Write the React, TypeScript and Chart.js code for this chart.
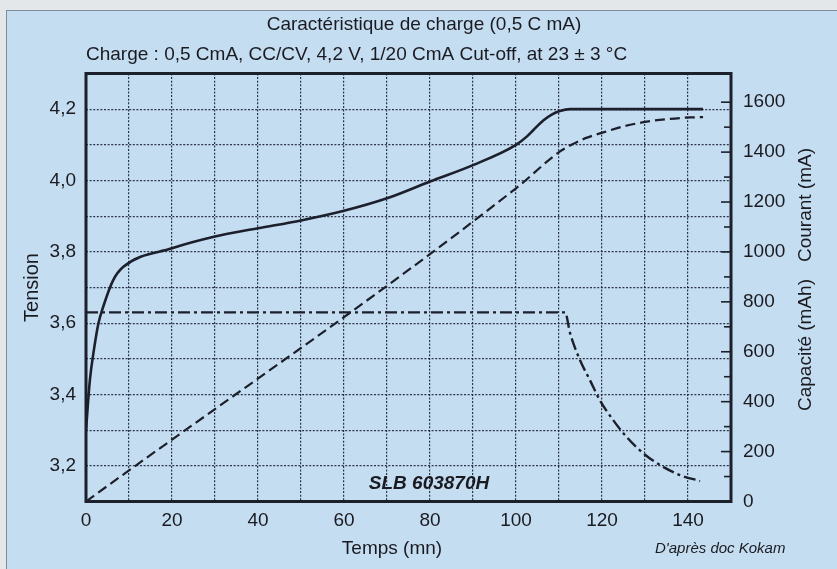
import React, { useEffect, useRef } from 'react';
import { Chart, registerables } from 'chart.js';

Chart.register(...registerables);

// ---------- data ----------
const tensionTime = [0, 0.9, 1.9, 2.9, 4.0, 6.3, 8.7, 20, 30, 40, 50, 60, 70, 80, 90, 100, 102.5, 104, 106.4, 108.3, 110.2, 112.6, 143.5];
const tensionVolts = [3.30, 3.44, 3.53, 3.60, 3.646, 3.72, 3.758, 3.81, 3.843, 3.866, 3.888, 3.915, 3.95, 3.997, 4.043, 4.1, 4.123, 4.141, 4.169, 4.185, 4.195, 4.2, 4.2];

const capacityTime = [0, 100, 110, 113.3, 116.5, 120.3, 125, 130.4, 135, 140.5, 143.5];
const capacityMah = [0, 1255, 1400, 1433, 1458, 1479, 1503, 1522, 1532, 1539, 1540];

const currentTime = [0, 111.4, 112.6, 114.9, 117.2, 119.5, 122.6, 125.7, 129.6, 133.5, 138.1, 142.8];
const currentMa = [758, 758, 673, 566, 486, 406, 326, 259, 193, 146, 106, 82];

// tick labels
const timeLabels = [0, 20, 40, 60, 80, 100, 120, 140];
const voltLabels = [3.2, 3.4, 3.6, 3.8, 4.0, 4.2];
const rightLabels = [0, 200, 400, 600, 800, 1000, 1200, 1400, 1600];

// texts
const TITLE = 'Caractéristique de charge (0,5 C mA)';
const SUBTITLE = 'Charge : 0,5 CmA, CC/CV, 4,2 V, 1/20 CmA Cut-off, at 23 ± 3 °C';
const MODEL = 'SLB 603870H';
const X_TITLE = 'Temps (mn)';
const Y_TITLE = 'Tension';
const R_TITLE_TOP = 'Courant (mA)';
const R_TITLE_BOTTOM = 'Capacité (mAh)';
const SOURCE = "D'après doc Kokam";

// ---------- style ----------
const FONT = '"Liberation Sans", Arial, Helvetica, sans-serif';
const INK = '#1c1f2c';
const TEXT = '#1a1b22';
const PANEL = '#c5ddf0';
const GRID = 'rgba(28,36,60,0.9)';

const toPoints = (xs: number[], ys: number[]) => xs.map((x, i) => ({ x, y: ys[i] }));
const near = (a: number, b: number) => Math.abs(a - b) < 1e-6;

const decor = {
  id: 'decor',
  beforeDraw(chart: any) {
    const { ctx, width, height } = chart;
    ctx.save();
    ctx.fillStyle = '#e4e7e9';
    ctx.fillRect(0, 0, width, height);
    ctx.fillStyle = PANEL;
    ctx.fillRect(6, 10, width - 6, height - 10);
    ctx.strokeStyle = '#7d8c9a';
    ctx.lineWidth = 1;
    ctx.strokeRect(6.5, 10.5, width, height);
    ctx.restore();
  },
  afterDatasetsDraw(chart: any) {
    const { ctx, chartArea: a } = chart;
    ctx.save();
    ctx.strokeStyle = INK;
    ctx.lineWidth = 3;
    ctx.strokeRect(a.left, a.top, a.right - a.left, a.bottom - a.top);
    const s = chart.scales.y1;
    ctx.lineWidth = 1.6;
    s.ticks.forEach((t: any) => {
      const v = t.value;
      const r = Math.round(v);
      if (!near(v, r) || r <= 0 || r % 100 !== 0) return;
      const y = s.getPixelForValue(v);
      const len = r % 200 === 0 ? 10 : 7;
      ctx.beginPath();
      ctx.moveTo(a.right, y);
      ctx.lineTo(a.right - len, y);
      ctx.stroke();
    });
    ctx.restore();
  },
  afterDraw(chart: any) {
    const { ctx } = chart;
    ctx.save();
    ctx.fillStyle = TEXT;
    ctx.textBaseline = 'middle';
    ctx.font = `19px ${FONT}`;
    ctx.textAlign = 'center';
    ctx.fillText(TITLE, 424, 25);
    ctx.textAlign = 'left';
    ctx.fillText(SUBTITLE, 86, 55);
    ctx.textAlign = 'center';
    ctx.fillText(X_TITLE, 392, 549);
    ctx.font = `italic bold 19px ${FONT}`;
    ctx.fillText(MODEL, 429, 484);
    ctx.font = `italic 15px ${FONT}`;
    ctx.textAlign = 'left';
    ctx.fillText(SOURCE, 655, 549);
    ctx.font = `19px ${FONT}`;
    ctx.textAlign = 'center';
    ctx.save();
    ctx.translate(806, 205);
    ctx.rotate(-Math.PI / 2);
    ctx.fillText(R_TITLE_TOP, 0, 0);
    ctx.restore();
    ctx.save();
    ctx.translate(806, 345);
    ctx.rotate(-Math.PI / 2);
    ctx.fillText(R_TITLE_BOTTOM, 0, 0);
    ctx.restore();
    ctx.restore();
  },
};

export default function App() {
  const ref = useRef<HTMLCanvasElement | null>(null);

  useEffect(() => {
    if (!ref.current) return;
    const chart = new Chart(ref.current, {
      type: 'line',
      data: {
        datasets: [
          {
            label: 'Tension',
            data: toPoints(tensionTime, tensionVolts),
            yAxisID: 'y',
            borderColor: INK,
            borderWidth: 2.6,
            pointRadius: 0,
            fill: false,
            cubicInterpolationMode: 'monotone',
          },
          {
            label: 'Capacité',
            data: toPoints(capacityTime, capacityMah),
            yAxisID: 'y1',
            borderColor: INK,
            borderWidth: 2.2,
            borderDash: [10, 5],
            pointRadius: 0,
            fill: false,
            cubicInterpolationMode: 'monotone',
          },
          {
            label: 'Courant',
            data: toPoints(currentTime, currentMa),
            yAxisID: 'y1',
            borderColor: INK,
            borderWidth: 2.4,
            borderDash: [12, 4, 3, 4],
            pointRadius: 0,
            fill: false,
            cubicInterpolationMode: 'monotone',
          },
        ],
      } as any,
      options: {
        responsive: false,
        animation: false,
        events: [],
        layout: { padding: { top: 73.5, left: 0, right: 0, bottom: 0 } },
        plugins: {
          legend: { display: false },
          tooltip: { enabled: false },
          title: { display: false },
        },
        scales: {
          x: {
            type: 'linear',
            position: 'bottom',
            min: 0,
            max: 150,
            afterFit: (s: any) => { s.height = 67.5; },
            ticks: {
              stepSize: 10,
              autoSkip: false,
              maxRotation: 0,
              padding: 8,
              color: TEXT,
              font: { family: FONT, size: 19 },
              callback: (v: any) => (timeLabels.some((t) => near(t, Number(v))) ? String(v) : ''),
            },
            grid: { color: GRID, lineWidth: 1.2, drawTicks: false },
            border: { display: false, dash: [2, 1.6] },
            title: { display: false },
          },
          y: {
            type: 'linear',
            position: 'left',
            min: 3.1,
            max: 4.3,
            afterFit: (s: any) => { s.width = 86; },
            ticks: {
              stepSize: 0.1,
              autoSkip: false,
              padding: 10,
              color: TEXT,
              font: { family: FONT, size: 19 },
              callback: (v: any) => {
                const lab = voltLabels.find((t) => Math.abs(t - Number(v)) < 1e-4);
                return lab === undefined ? '' : lab.toFixed(1).replace('.', ',');
              },
            },
            grid: { color: GRID, lineWidth: 1.2, drawTicks: false },
            border: { display: false, dash: [2, 1.6] },
            title: {
              display: true,
              text: Y_TITLE,
              color: TEXT,
              font: { family: FONT, size: 20 },
              padding: { top: 20.5, bottom: 0 },
            },
          },
          y1: {
            type: 'linear',
            position: 'right',
            min: 0,
            max: 1715,
            afterFit: (s: any) => { s.width = 106; },
            ticks: {
              stepSize: 100,
              autoSkip: false,
              padding: 12,
              color: TEXT,
              font: { family: FONT, size: 19 },
              callback: (v: any) => (rightLabels.some((t) => near(t, Number(v))) ? String(Math.round(Number(v))) : ''),
            },
            grid: { drawOnChartArea: false, drawTicks: false },
            border: { display: false },
          },
        },
      } as any,
      plugins: [decor],
    });
    return () => chart.destroy();
  }, []);

  return (
    <div style={{ position: 'fixed', left: 0, top: 0, width: 837, height: 569 }}>
      <canvas ref={ref} width={837} height={569} style={{ display: 'block' }} />
    </div>
  );
}
